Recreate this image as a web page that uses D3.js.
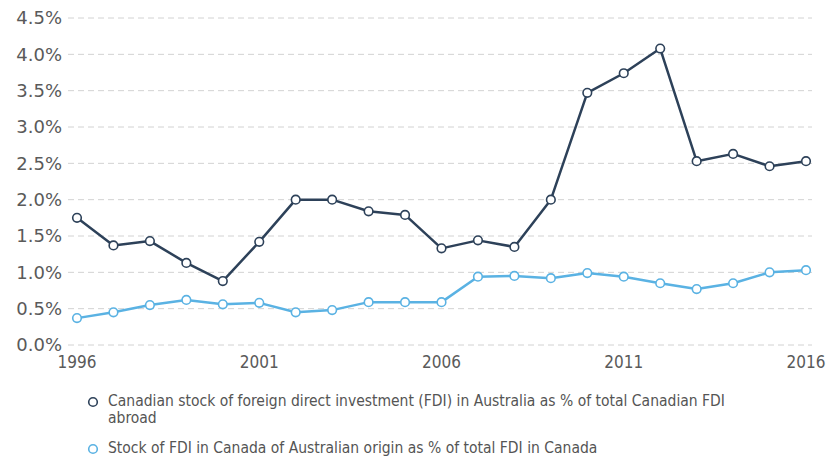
<!DOCTYPE html>
<html>
<head>
<meta charset="utf-8">
<script src="https://cdn.jsdelivr.net/npm/d3@7"></script>
<style>
  body { margin: 0; background: #fff; }
  svg { display: block; }
</style>
</head>
<body>
<div id="chart"></div>
<script>
// years on the x axis
var years = d3.range(1996, 2017);
var xTicks = [1996, 2001, 2006, 2011, 2016];
var yTicks = [0, 0.5, 1.0, 1.5, 2.0, 2.5, 3.0, 3.5, 4.0, 4.5];

// Canadian FDI in Australia, % of total Canadian FDI abroad
var canInAus = [1.75, 1.37, 1.43, 1.13, 0.88, 1.42, 2.0, 2.0, 1.84, 1.79, 1.33,
                1.44, 1.35, 2.0, 3.47, 3.74, 4.08, 2.53, 2.63, 2.46, 2.53];
// Australian FDI in Canada, % of total FDI in Canada
var ausInCan = [0.37, 0.45, 0.55, 0.62, 0.56, 0.58, 0.45, 0.48, 0.59, 0.59, 0.59,
                0.94, 0.95, 0.92, 0.99, 0.94, 0.85, 0.77, 0.85, 1.0, 1.03];

var seriesNames = [
  "Canadian stock of foreign direct investment (FDI) in Australia as % of total Canadian FDI",
  "Stock of FDI in Canada of Australian origin as % of total FDI in Canada"
];
var colors = ["#2d4159", "#5ab2e3"];

var width = 830, height = 456;
var margin = {top: 18, right: 24, bottom: 111, left: 77};

var svg = d3.select("#chart").append("svg")
    .attr("width", width)
    .attr("height", height);

var x = d3.scaleLinear()
    .domain([1996, 2016])
    .range([margin.left, width - margin.right]);

var y = d3.scaleLinear()
    .domain([0, 4.5])
    .range([height - margin.bottom, margin.top]);

// gridlines
svg.append("g")
  .selectAll("line")
  .data(yTicks)
  .enter()
  .append("line")
    .attr("x1", 68)
    .attr("x2", width - 18)
    .attr("y1", d => y(d))
    .attr("y2", d => y(d))
    .attr("stroke", "#d2d2d2")
    .attr("stroke-width", 1)
    .attr("stroke-dasharray", "6,4");

// y axis labels
svg.append("g")
  .selectAll("text")
  .data(yTicks)
  .enter()
  .append("text")
    .attr("x", 62)
    .attr("y", d => y(d))
    .attr("dy", "0.36em")
    .attr("text-anchor", "end")
    .style("font-family", "DejaVu Sans")
    .style("font-size", "18px")
    .style("fill", "#5a5a5a")
    .text(d => d.toFixed(1) + "%");

// x axis labels
svg.append("g")
  .selectAll("text")
  .data(xTicks)
  .enter()
  .append("text")
    .attr("x", d => x(d))
    .attr("y", height - margin.bottom + 23)
    .attr("text-anchor", "middle")
    .style("font-family", "DejaVu Sans Condensed")
    .style("font-size", "17px")
    .style("fill", "#5a5a5a")
    .text(d => d);

var line = d3.line()
    .x((d, i) => x(years[i]))
    .y(d => y(d));

[canInAus, ausInCan].forEach(function(vals, k) {
  svg.append("path")
      .datum(vals)
      .attr("fill", "none")
      .attr("stroke", colors[k])
      .attr("stroke-width", 2.5)
      .attr("stroke-linejoin", "round")
      .attr("d", line);

  svg.append("g")
    .selectAll("circle")
    .data(vals)
    .enter()
    .append("circle")
      .attr("cx", (d, i) => x(years[i]))
      .attr("cy", d => y(d))
      .attr("r", 4.3)
      .attr("fill", "#fff")
      .attr("stroke", colors[k])
      .attr("stroke-width", 1.6);
});

// legend
var legend = svg.append("g")
    .style("font-family", "DejaVu Sans Condensed")
    .style("font-size", "15.5px")
    .style("fill", "#555");

var legendRows = [
  {y: 402, lines: [seriesNames[0], "abroad"]},
  {y: 449, lines: [seriesNames[1]]}
];

legendRows.forEach(function(r, k) {
  legend.append("circle")
      .attr("cx", 93)
      .attr("cy", r.y)
      .attr("r", 4.3)
      .attr("fill", "#fff")
      .attr("stroke", colors[k])
      .attr("stroke-width", 1.6);
  var t = legend.append("text")
      .attr("x", 108)
      .attr("y", r.y - 4);
  r.lines.forEach(function(s, j) {
    t.append("tspan")
      .attr("x", 108)
      .attr("dy", j === 0 ? "0.5em" : "17px")
      .text(s);
  });
});
</script>
</body>
</html>
